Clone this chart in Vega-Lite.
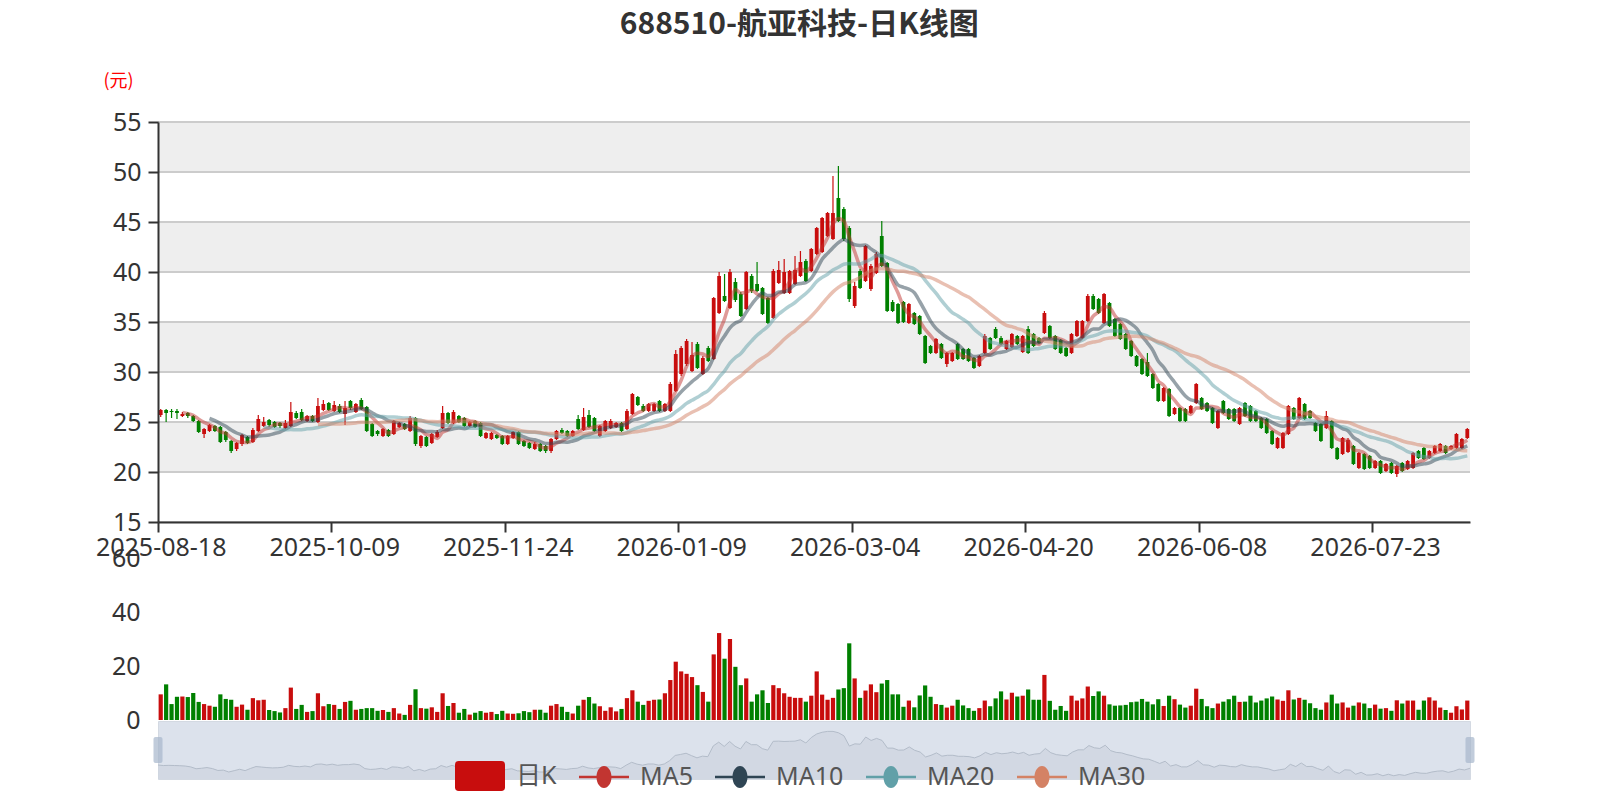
{
  "$schema": "https://vega.github.io/schema/vega-lite/v6.json",
  "padding": {"left": 95, "top": 10, "right": 10, "bottom": 5},
  "background": "#ffffff",
  "title": {"text": "688510-航亚科技-日K线图", "font": "Noto Sans CJK SC", "fontSize": 30, "fontWeight": "bold", "color": "#333333", "anchor": "middle", "offset": 32, "dx": 14},
  "config": {
    "view": {"stroke": null},
    "font": "Noto Sans",
    "axis": {"labelFont": "Noto Sans", "labelFontSize": 25, "labelColor": "#333333", "titleFont": "Noto Sans CJK SC"}
  },
  "datasets": {
    "k": [
      {"d": "2025-08-18", "o": 25.7, "c": 26.2, "h": 26.3, "l": 25.5, "v": 9.5},
      {"d": "2025-08-19", "o": 26.2, "c": 25.9, "h": 26.3, "l": 25.0, "v": 13.2},
      {"d": "2025-08-20", "o": 26.1, "c": 26.0, "h": 26.3, "l": 25.4, "v": 5.9},
      {"d": "2025-08-21", "o": 26.1, "c": 25.9, "h": 26.3, "l": 25.3, "v": 8.6},
      {"d": "2025-08-22", "o": 25.6, "c": 25.8, "h": 26.0, "l": 25.5, "v": 8.7},
      {"d": "2025-08-25", "o": 25.9, "c": 25.6, "h": 26.0, "l": 25.4, "v": 8.5},
      {"d": "2025-08-26", "o": 25.6, "c": 25.1, "h": 25.7, "l": 25.0, "v": 10.0},
      {"d": "2025-08-27", "o": 25.1, "c": 24.0, "h": 25.2, "l": 23.9, "v": 6.7},
      {"d": "2025-08-28", "o": 23.8, "c": 24.3, "h": 24.4, "l": 23.4, "v": 5.9},
      {"d": "2025-08-29", "o": 24.1, "c": 24.7, "h": 24.8, "l": 24.0, "v": 5.3},
      {"d": "2025-09-01", "o": 24.6, "c": 24.1, "h": 24.7, "l": 24.0, "v": 4.9},
      {"d": "2025-09-02", "o": 24.5, "c": 23.0, "h": 24.6, "l": 22.9, "v": 9.5},
      {"d": "2025-09-03", "o": 24.0, "c": 23.2, "h": 24.1, "l": 23.0, "v": 7.8},
      {"d": "2025-09-04", "o": 23.1, "c": 22.1, "h": 23.2, "l": 21.9, "v": 7.5},
      {"d": "2025-09-05", "o": 22.3, "c": 22.9, "h": 23.0, "l": 22.1, "v": 4.9},
      {"d": "2025-09-08", "o": 22.8, "c": 23.7, "h": 23.8, "l": 22.6, "v": 5.7},
      {"d": "2025-09-09", "o": 23.5, "c": 22.9, "h": 23.6, "l": 22.8, "v": 3.8},
      {"d": "2025-09-10", "o": 23.0, "c": 24.2, "h": 24.4, "l": 22.9, "v": 8.1},
      {"d": "2025-09-11", "o": 24.1, "c": 25.3, "h": 25.7, "l": 24.0, "v": 7.3},
      {"d": "2025-09-12", "o": 24.6, "c": 25.0, "h": 25.5, "l": 24.5, "v": 7.5},
      {"d": "2025-09-15", "o": 25.2, "c": 24.7, "h": 25.3, "l": 24.5, "v": 3.7},
      {"d": "2025-09-16", "o": 25.0, "c": 24.5, "h": 25.1, "l": 24.4, "v": 3.3},
      {"d": "2025-09-17", "o": 24.9, "c": 24.6, "h": 25.0, "l": 24.4, "v": 2.8},
      {"d": "2025-09-18", "o": 24.4, "c": 24.9, "h": 25.2, "l": 24.3, "v": 4.4},
      {"d": "2025-09-19", "o": 24.6, "c": 26.0, "h": 27.0, "l": 24.5, "v": 12.0},
      {"d": "2025-09-22", "o": 25.9, "c": 25.4, "h": 26.1, "l": 25.3, "v": 4.1},
      {"d": "2025-09-23", "o": 26.0, "c": 25.2, "h": 26.3, "l": 25.1, "v": 5.6},
      {"d": "2025-09-24", "o": 25.1, "c": 25.6, "h": 25.7, "l": 25.0, "v": 3.0},
      {"d": "2025-09-25", "o": 25.6, "c": 25.1, "h": 25.7, "l": 25.0, "v": 3.3},
      {"d": "2025-09-26", "o": 25.0, "c": 26.6, "h": 27.4, "l": 24.9, "v": 9.9},
      {"d": "2025-09-29", "o": 26.2, "c": 26.8, "h": 27.2, "l": 26.1, "v": 5.1},
      {"d": "2025-09-30", "o": 26.9, "c": 26.2, "h": 27.0, "l": 26.1, "v": 5.9},
      {"d": "2025-10-09", "o": 26.1, "c": 26.7, "h": 27.1, "l": 26.0, "v": 5.6},
      {"d": "2025-10-10", "o": 26.6, "c": 26.0, "h": 26.8, "l": 25.9, "v": 4.1},
      {"d": "2025-10-13", "o": 25.8, "c": 26.4, "h": 27.1, "l": 24.7, "v": 6.7},
      {"d": "2025-10-14", "o": 27.1, "c": 26.4, "h": 27.2, "l": 26.2, "v": 7.1},
      {"d": "2025-10-15", "o": 26.0, "c": 26.8, "h": 26.9, "l": 25.9, "v": 3.8},
      {"d": "2025-10-16", "o": 27.2, "c": 26.3, "h": 27.4, "l": 26.2, "v": 4.1},
      {"d": "2025-10-17", "o": 26.5, "c": 24.1, "h": 26.6, "l": 24.0, "v": 4.4},
      {"d": "2025-10-20", "o": 24.8, "c": 23.6, "h": 24.9, "l": 23.5, "v": 4.4},
      {"d": "2025-10-21", "o": 24.1, "c": 23.8, "h": 24.2, "l": 23.6, "v": 3.4},
      {"d": "2025-10-22", "o": 23.6, "c": 24.3, "h": 24.4, "l": 23.5, "v": 3.7},
      {"d": "2025-10-23", "o": 24.2, "c": 23.6, "h": 24.3, "l": 23.5, "v": 3.0},
      {"d": "2025-10-24", "o": 23.8, "c": 25.1, "h": 25.2, "l": 23.7, "v": 4.4},
      {"d": "2025-10-27", "o": 24.5, "c": 24.9, "h": 25.0, "l": 24.4, "v": 2.4},
      {"d": "2025-10-28", "o": 24.8, "c": 24.3, "h": 24.9, "l": 24.2, "v": 1.9},
      {"d": "2025-10-29", "o": 24.1, "c": 25.4, "h": 25.6, "l": 24.0, "v": 5.6},
      {"d": "2025-10-30", "o": 25.4, "c": 22.8, "h": 25.5, "l": 22.6, "v": 11.4},
      {"d": "2025-10-31", "o": 22.6, "c": 23.6, "h": 23.7, "l": 22.4, "v": 4.4},
      {"d": "2025-11-03", "o": 23.5, "c": 22.6, "h": 23.6, "l": 22.5, "v": 4.2},
      {"d": "2025-11-04", "o": 22.9, "c": 23.8, "h": 23.9, "l": 22.8, "v": 4.7},
      {"d": "2025-11-05", "o": 23.5, "c": 24.0, "h": 24.2, "l": 23.4, "v": 3.0},
      {"d": "2025-11-06", "o": 24.4, "c": 25.9, "h": 26.6, "l": 24.3, "v": 9.9},
      {"d": "2025-11-07", "o": 25.9, "c": 24.9, "h": 26.0, "l": 24.8, "v": 5.2},
      {"d": "2025-11-10", "o": 24.9, "c": 26.0, "h": 26.2, "l": 24.8, "v": 6.3},
      {"d": "2025-11-11", "o": 25.6, "c": 25.0, "h": 25.7, "l": 24.9, "v": 2.7},
      {"d": "2025-11-12", "o": 25.4, "c": 24.6, "h": 25.5, "l": 24.5, "v": 4.1},
      {"d": "2025-11-13", "o": 24.6, "c": 25.0, "h": 25.1, "l": 24.5, "v": 2.0},
      {"d": "2025-11-14", "o": 25.1, "c": 24.5, "h": 25.2, "l": 24.4, "v": 2.7},
      {"d": "2025-11-17", "o": 24.9, "c": 23.6, "h": 25.0, "l": 23.5, "v": 3.3},
      {"d": "2025-11-18", "o": 23.4, "c": 23.9, "h": 24.0, "l": 23.3, "v": 2.7},
      {"d": "2025-11-19", "o": 23.3, "c": 23.9, "h": 24.0, "l": 23.2, "v": 3.0},
      {"d": "2025-11-20", "o": 23.7, "c": 23.4, "h": 23.8, "l": 23.3, "v": 2.2},
      {"d": "2025-11-21", "o": 23.6, "c": 22.8, "h": 23.7, "l": 22.7, "v": 3.4},
      {"d": "2025-11-24", "o": 22.8, "c": 23.6, "h": 23.7, "l": 22.7, "v": 2.4},
      {"d": "2025-11-25", "o": 23.4, "c": 24.0, "h": 24.1, "l": 23.3, "v": 2.3},
      {"d": "2025-11-26", "o": 24.0, "c": 22.8, "h": 24.1, "l": 22.7, "v": 2.5},
      {"d": "2025-11-27", "o": 23.1, "c": 22.6, "h": 23.2, "l": 22.5, "v": 3.3},
      {"d": "2025-11-28", "o": 22.9, "c": 22.4, "h": 23.0, "l": 22.3, "v": 2.9},
      {"d": "2025-12-01", "o": 22.3, "c": 22.8, "h": 23.0, "l": 22.2, "v": 3.8},
      {"d": "2025-12-02", "o": 22.8, "c": 22.1, "h": 22.9, "l": 22.0, "v": 3.8},
      {"d": "2025-12-03", "o": 22.6, "c": 22.1, "h": 22.7, "l": 21.9, "v": 2.7},
      {"d": "2025-12-04", "o": 22.1, "c": 23.3, "h": 23.4, "l": 21.9, "v": 5.3},
      {"d": "2025-12-05", "o": 23.3, "c": 24.1, "h": 24.2, "l": 23.2, "v": 5.9},
      {"d": "2025-12-08", "o": 24.2, "c": 23.9, "h": 24.4, "l": 23.8, "v": 4.9},
      {"d": "2025-12-09", "o": 24.1, "c": 23.6, "h": 24.2, "l": 23.5, "v": 3.0},
      {"d": "2025-12-10", "o": 23.6, "c": 24.1, "h": 24.2, "l": 23.5, "v": 2.4},
      {"d": "2025-12-11", "o": 25.3, "c": 24.3, "h": 25.7, "l": 24.2, "v": 5.3},
      {"d": "2025-12-12", "o": 24.2, "c": 25.5, "h": 26.4, "l": 24.1, "v": 7.5},
      {"d": "2025-12-15", "o": 25.7, "c": 24.5, "h": 26.2, "l": 24.4, "v": 8.5},
      {"d": "2025-12-16", "o": 25.4, "c": 24.1, "h": 25.5, "l": 24.0, "v": 6.1},
      {"d": "2025-12-17", "o": 23.6, "c": 24.6, "h": 24.7, "l": 23.5, "v": 5.1},
      {"d": "2025-12-18", "o": 24.1, "c": 25.1, "h": 25.2, "l": 24.0, "v": 3.4},
      {"d": "2025-12-19", "o": 24.4, "c": 25.1, "h": 25.3, "l": 24.3, "v": 4.7},
      {"d": "2025-12-22", "o": 24.5, "c": 24.9, "h": 25.0, "l": 24.4, "v": 3.2},
      {"d": "2025-12-23", "o": 24.9, "c": 24.1, "h": 25.0, "l": 24.0, "v": 4.1},
      {"d": "2025-12-24", "o": 24.3, "c": 26.1, "h": 26.3, "l": 24.2, "v": 8.1},
      {"d": "2025-12-25", "o": 25.8, "c": 27.8, "h": 27.9, "l": 25.7, "v": 11.0},
      {"d": "2025-12-26", "o": 27.5, "c": 26.7, "h": 27.6, "l": 26.6, "v": 6.8},
      {"d": "2025-12-29", "o": 26.6, "c": 26.1, "h": 26.8, "l": 26.0, "v": 5.6},
      {"d": "2025-12-30", "o": 26.1, "c": 26.8, "h": 26.9, "l": 26.0, "v": 7.1},
      {"d": "2025-12-31", "o": 26.1, "c": 26.8, "h": 26.9, "l": 26.0, "v": 7.5},
      {"d": "2026-01-05", "o": 27.1, "c": 26.1, "h": 27.2, "l": 26.0, "v": 7.6},
      {"d": "2026-01-06", "o": 26.1, "c": 26.8, "h": 26.9, "l": 26.0, "v": 9.9},
      {"d": "2026-01-07", "o": 26.1, "c": 28.8, "h": 29.0, "l": 26.0, "v": 14.8},
      {"d": "2026-01-08", "o": 28.1, "c": 31.8, "h": 32.2, "l": 28.0, "v": 21.6},
      {"d": "2026-01-09", "o": 29.8, "c": 32.4, "h": 32.6, "l": 29.6, "v": 18.0},
      {"d": "2026-01-12", "o": 30.8, "c": 33.1, "h": 33.3, "l": 30.6, "v": 17.1},
      {"d": "2026-01-13", "o": 30.1, "c": 31.7, "h": 33.0, "l": 30.0, "v": 15.9},
      {"d": "2026-01-14", "o": 32.8, "c": 30.4, "h": 33.0, "l": 30.3, "v": 12.9},
      {"d": "2026-01-15", "o": 29.8, "c": 31.4, "h": 31.6, "l": 29.7, "v": 10.4},
      {"d": "2026-01-16", "o": 32.4, "c": 31.1, "h": 32.6, "l": 31.0, "v": 6.8},
      {"d": "2026-01-19", "o": 31.3, "c": 37.4, "h": 37.5, "l": 31.2, "v": 24.3},
      {"d": "2026-01-20", "o": 35.9, "c": 39.6, "h": 40.0, "l": 35.8, "v": 32.2},
      {"d": "2026-01-21", "o": 37.6, "c": 37.1, "h": 39.8, "l": 37.0, "v": 22.7},
      {"d": "2026-01-22", "o": 36.4, "c": 40.0, "h": 40.3, "l": 36.3, "v": 30.0},
      {"d": "2026-01-23", "o": 39.0, "c": 37.2, "h": 39.4, "l": 37.0, "v": 19.7},
      {"d": "2026-01-26", "o": 37.8, "c": 35.6, "h": 38.0, "l": 35.5, "v": 12.9},
      {"d": "2026-01-27", "o": 36.3, "c": 40.0, "h": 40.1, "l": 36.2, "v": 15.4},
      {"d": "2026-01-28", "o": 39.6, "c": 38.1, "h": 39.8, "l": 37.9, "v": 6.8},
      {"d": "2026-01-29", "o": 38.8, "c": 38.1, "h": 41.0, "l": 38.0, "v": 9.5},
      {"d": "2026-01-30", "o": 38.4, "c": 35.8, "h": 38.5, "l": 35.7, "v": 11.0},
      {"d": "2026-02-02", "o": 37.4, "c": 34.9, "h": 37.5, "l": 34.8, "v": 6.3},
      {"d": "2026-02-03", "o": 35.4, "c": 40.1, "h": 40.3, "l": 35.3, "v": 12.9},
      {"d": "2026-02-04", "o": 38.9, "c": 40.2, "h": 41.1, "l": 38.8, "v": 11.8},
      {"d": "2026-02-05", "o": 37.9, "c": 40.0, "h": 41.3, "l": 37.8, "v": 9.9},
      {"d": "2026-02-06", "o": 37.9, "c": 40.1, "h": 40.2, "l": 37.8, "v": 8.6},
      {"d": "2026-02-09", "o": 38.8, "c": 40.2, "h": 41.6, "l": 38.7, "v": 8.2},
      {"d": "2026-02-10", "o": 39.6, "c": 41.0, "h": 42.1, "l": 39.5, "v": 8.2},
      {"d": "2026-02-11", "o": 41.1, "c": 39.1, "h": 41.3, "l": 39.0, "v": 6.8},
      {"d": "2026-02-12", "o": 40.1, "c": 42.3, "h": 42.4, "l": 40.0, "v": 9.0},
      {"d": "2026-02-13", "o": 41.8, "c": 44.4, "h": 44.5, "l": 41.7, "v": 18.0},
      {"d": "2026-02-24", "o": 42.0, "c": 45.4, "h": 45.5, "l": 41.9, "v": 9.4},
      {"d": "2026-02-25", "o": 43.6, "c": 45.9, "h": 46.0, "l": 43.5, "v": 7.5},
      {"d": "2026-02-26", "o": 43.3, "c": 45.9, "h": 49.6, "l": 43.2, "v": 8.2},
      {"d": "2026-02-27", "o": 47.4, "c": 45.1, "h": 50.6, "l": 45.0, "v": 11.3},
      {"d": "2026-03-02", "o": 46.3, "c": 43.3, "h": 46.5, "l": 43.1, "v": 11.8},
      {"d": "2026-03-03", "o": 44.4, "c": 37.3, "h": 44.6, "l": 37.0, "v": 28.4},
      {"d": "2026-03-04", "o": 36.6, "c": 38.6, "h": 39.0, "l": 36.4, "v": 15.4},
      {"d": "2026-03-05", "o": 40.1, "c": 38.4, "h": 40.3, "l": 38.3, "v": 8.2},
      {"d": "2026-03-06", "o": 39.1, "c": 42.6, "h": 42.7, "l": 39.0, "v": 10.9},
      {"d": "2026-03-09", "o": 38.3, "c": 40.6, "h": 40.8, "l": 38.1, "v": 13.2},
      {"d": "2026-03-10", "o": 39.9, "c": 41.8, "h": 42.0, "l": 39.8, "v": 10.3},
      {"d": "2026-03-11", "o": 43.6, "c": 40.6, "h": 45.1, "l": 40.5, "v": 13.5},
      {"d": "2026-03-12", "o": 40.9, "c": 36.1, "h": 41.0, "l": 36.0, "v": 14.8},
      {"d": "2026-03-13", "o": 37.0, "c": 36.1, "h": 37.2, "l": 36.0, "v": 9.5},
      {"d": "2026-03-16", "o": 36.8, "c": 34.9, "h": 36.9, "l": 34.8, "v": 9.5},
      {"d": "2026-03-17", "o": 37.0, "c": 35.0, "h": 37.1, "l": 34.9, "v": 4.9},
      {"d": "2026-03-18", "o": 34.9, "c": 36.8, "h": 36.9, "l": 34.8, "v": 7.2},
      {"d": "2026-03-19", "o": 35.9, "c": 34.8, "h": 36.0, "l": 34.7, "v": 4.7},
      {"d": "2026-03-20", "o": 35.6, "c": 33.8, "h": 35.7, "l": 33.7, "v": 9.1},
      {"d": "2026-03-23", "o": 33.6, "c": 30.9, "h": 33.7, "l": 30.8, "v": 12.8},
      {"d": "2026-03-24", "o": 32.6, "c": 31.9, "h": 32.7, "l": 31.8, "v": 8.6},
      {"d": "2026-03-25", "o": 31.9, "c": 33.3, "h": 33.4, "l": 31.8, "v": 5.9},
      {"d": "2026-03-26", "o": 32.8, "c": 31.4, "h": 32.9, "l": 31.3, "v": 5.6},
      {"d": "2026-03-27", "o": 30.8, "c": 31.9, "h": 32.0, "l": 30.5, "v": 4.6},
      {"d": "2026-03-30", "o": 31.1, "c": 31.9, "h": 32.0, "l": 31.0, "v": 5.3},
      {"d": "2026-03-31", "o": 32.8, "c": 31.3, "h": 32.9, "l": 31.2, "v": 7.5},
      {"d": "2026-04-01", "o": 32.3, "c": 31.3, "h": 32.4, "l": 31.2, "v": 5.4},
      {"d": "2026-04-02", "o": 32.3, "c": 31.1, "h": 32.4, "l": 31.0, "v": 4.4},
      {"d": "2026-04-03", "o": 31.4, "c": 30.4, "h": 31.5, "l": 30.3, "v": 3.4},
      {"d": "2026-04-07", "o": 30.6, "c": 31.6, "h": 31.7, "l": 30.5, "v": 4.4},
      {"d": "2026-04-08", "o": 31.9, "c": 33.6, "h": 33.8, "l": 31.8, "v": 7.2},
      {"d": "2026-04-09", "o": 33.4, "c": 32.3, "h": 33.5, "l": 32.2, "v": 5.1},
      {"d": "2026-04-10", "o": 34.3, "c": 33.4, "h": 34.5, "l": 33.3, "v": 8.0},
      {"d": "2026-04-13", "o": 33.4, "c": 32.8, "h": 33.6, "l": 32.7, "v": 10.6},
      {"d": "2026-04-14", "o": 32.3, "c": 33.1, "h": 33.2, "l": 32.2, "v": 7.6},
      {"d": "2026-04-15", "o": 32.5, "c": 33.8, "h": 33.9, "l": 32.4, "v": 10.1},
      {"d": "2026-04-16", "o": 33.6, "c": 32.8, "h": 33.7, "l": 32.7, "v": 8.7},
      {"d": "2026-04-17", "o": 32.0, "c": 33.6, "h": 33.7, "l": 31.9, "v": 9.0},
      {"d": "2026-04-20", "o": 34.3, "c": 31.9, "h": 34.6, "l": 31.8, "v": 11.3},
      {"d": "2026-04-21", "o": 33.8, "c": 32.6, "h": 33.9, "l": 32.5, "v": 7.5},
      {"d": "2026-04-22", "o": 33.4, "c": 32.9, "h": 33.5, "l": 32.8, "v": 7.5},
      {"d": "2026-04-23", "o": 33.9, "c": 35.9, "h": 36.1, "l": 33.8, "v": 16.7},
      {"d": "2026-04-24", "o": 34.6, "c": 33.4, "h": 34.7, "l": 33.3, "v": 7.1},
      {"d": "2026-04-27", "o": 33.6, "c": 32.3, "h": 33.7, "l": 32.2, "v": 3.8},
      {"d": "2026-04-28", "o": 33.2, "c": 31.9, "h": 33.3, "l": 31.8, "v": 5.2},
      {"d": "2026-04-29", "o": 32.4, "c": 31.6, "h": 32.5, "l": 31.5, "v": 3.4},
      {"d": "2026-04-30", "o": 31.9, "c": 33.8, "h": 33.9, "l": 31.8, "v": 9.0},
      {"d": "2026-05-06", "o": 33.6, "c": 35.1, "h": 35.2, "l": 33.5, "v": 7.2},
      {"d": "2026-05-07", "o": 33.4, "c": 35.1, "h": 35.2, "l": 33.3, "v": 8.0},
      {"d": "2026-05-08", "o": 35.1, "c": 37.6, "h": 37.8, "l": 35.0, "v": 12.4},
      {"d": "2026-05-11", "o": 37.6, "c": 36.3, "h": 37.8, "l": 36.2, "v": 8.9},
      {"d": "2026-05-12", "o": 37.3, "c": 35.9, "h": 37.4, "l": 35.8, "v": 10.6},
      {"d": "2026-05-13", "o": 34.9, "c": 37.8, "h": 37.9, "l": 34.8, "v": 9.0},
      {"d": "2026-05-14", "o": 36.9, "c": 34.6, "h": 37.0, "l": 34.5, "v": 5.8},
      {"d": "2026-05-15", "o": 35.3, "c": 33.6, "h": 35.4, "l": 33.5, "v": 5.3},
      {"d": "2026-05-18", "o": 34.8, "c": 33.3, "h": 34.9, "l": 33.2, "v": 5.4},
      {"d": "2026-05-19", "o": 33.8, "c": 32.3, "h": 33.9, "l": 32.2, "v": 5.6},
      {"d": "2026-05-20", "o": 33.1, "c": 31.6, "h": 33.2, "l": 31.5, "v": 6.6},
      {"d": "2026-05-21", "o": 31.6, "c": 30.6, "h": 31.7, "l": 30.5, "v": 6.8},
      {"d": "2026-05-22", "o": 31.3, "c": 29.8, "h": 31.4, "l": 29.7, "v": 7.8},
      {"d": "2026-05-25", "o": 31.0, "c": 29.6, "h": 31.9, "l": 29.5, "v": 6.8},
      {"d": "2026-05-26", "o": 29.8, "c": 28.4, "h": 29.9, "l": 28.3, "v": 5.8},
      {"d": "2026-05-27", "o": 28.8, "c": 27.1, "h": 28.9, "l": 27.0, "v": 7.7},
      {"d": "2026-05-28", "o": 27.1, "c": 28.4, "h": 28.5, "l": 27.0, "v": 5.2},
      {"d": "2026-05-29", "o": 28.3, "c": 25.6, "h": 28.4, "l": 25.5, "v": 9.0},
      {"d": "2026-06-01", "o": 25.8, "c": 26.4, "h": 26.5, "l": 25.7, "v": 7.7},
      {"d": "2026-06-02", "o": 26.4, "c": 25.1, "h": 26.5, "l": 25.0, "v": 5.7},
      {"d": "2026-06-03", "o": 26.3, "c": 25.1, "h": 26.4, "l": 25.0, "v": 4.6},
      {"d": "2026-06-04", "o": 25.9, "c": 26.6, "h": 26.7, "l": 25.8, "v": 5.3},
      {"d": "2026-06-05", "o": 26.9, "c": 28.8, "h": 28.9, "l": 26.8, "v": 11.6},
      {"d": "2026-06-08", "o": 27.4, "c": 26.3, "h": 27.5, "l": 26.2, "v": 7.8},
      {"d": "2026-06-09", "o": 26.9, "c": 26.1, "h": 27.0, "l": 26.0, "v": 5.1},
      {"d": "2026-06-10", "o": 26.4, "c": 24.9, "h": 26.5, "l": 24.8, "v": 4.4},
      {"d": "2026-06-11", "o": 24.4, "c": 26.1, "h": 26.2, "l": 24.3, "v": 6.1},
      {"d": "2026-06-12", "o": 27.1, "c": 25.9, "h": 27.2, "l": 25.8, "v": 6.8},
      {"d": "2026-06-15", "o": 26.3, "c": 25.3, "h": 26.4, "l": 25.2, "v": 7.7},
      {"d": "2026-06-16", "o": 26.3, "c": 25.1, "h": 26.4, "l": 25.0, "v": 9.0},
      {"d": "2026-06-17", "o": 24.8, "c": 26.4, "h": 26.5, "l": 24.7, "v": 6.7},
      {"d": "2026-06-18", "o": 26.9, "c": 25.6, "h": 27.0, "l": 25.5, "v": 6.8},
      {"d": "2026-06-22", "o": 26.6, "c": 25.1, "h": 26.7, "l": 25.0, "v": 9.0},
      {"d": "2026-06-23", "o": 26.1, "c": 25.1, "h": 26.2, "l": 25.0, "v": 6.5},
      {"d": "2026-06-24", "o": 25.4, "c": 24.4, "h": 25.5, "l": 24.3, "v": 7.2},
      {"d": "2026-06-25", "o": 25.3, "c": 23.9, "h": 25.4, "l": 23.8, "v": 8.0},
      {"d": "2026-06-26", "o": 24.1, "c": 22.8, "h": 24.2, "l": 22.7, "v": 8.7},
      {"d": "2026-06-29", "o": 22.4, "c": 23.4, "h": 23.5, "l": 22.3, "v": 7.6},
      {"d": "2026-06-30", "o": 22.4, "c": 23.9, "h": 24.0, "l": 22.3, "v": 7.1},
      {"d": "2026-07-01", "o": 23.8, "c": 26.6, "h": 26.7, "l": 23.7, "v": 11.0},
      {"d": "2026-07-02", "o": 26.4, "c": 25.3, "h": 26.5, "l": 25.2, "v": 7.6},
      {"d": "2026-07-03", "o": 25.4, "c": 27.4, "h": 27.5, "l": 25.3, "v": 8.2},
      {"d": "2026-07-06", "o": 26.8, "c": 25.3, "h": 26.9, "l": 25.2, "v": 7.5},
      {"d": "2026-07-07", "o": 26.1, "c": 25.4, "h": 26.2, "l": 25.3, "v": 6.2},
      {"d": "2026-07-08", "o": 24.9, "c": 24.1, "h": 25.0, "l": 24.0, "v": 4.4},
      {"d": "2026-07-09", "o": 24.8, "c": 23.1, "h": 24.9, "l": 23.0, "v": 3.8},
      {"d": "2026-07-10", "o": 24.4, "c": 25.6, "h": 26.1, "l": 24.3, "v": 6.5},
      {"d": "2026-07-13", "o": 25.1, "c": 22.4, "h": 25.2, "l": 22.3, "v": 9.4},
      {"d": "2026-07-14", "o": 22.4, "c": 21.3, "h": 22.5, "l": 21.2, "v": 6.1},
      {"d": "2026-07-15", "o": 21.8, "c": 23.4, "h": 23.5, "l": 21.7, "v": 6.5},
      {"d": "2026-07-16", "o": 22.0, "c": 23.2, "h": 23.4, "l": 21.9, "v": 4.6},
      {"d": "2026-07-17", "o": 22.6, "c": 20.8, "h": 22.7, "l": 20.7, "v": 5.3},
      {"d": "2026-07-20", "o": 20.4, "c": 21.9, "h": 22.0, "l": 20.3, "v": 6.5},
      {"d": "2026-07-21", "o": 21.8, "c": 20.3, "h": 21.9, "l": 20.2, "v": 6.1},
      {"d": "2026-07-22", "o": 21.6, "c": 20.4, "h": 21.7, "l": 20.3, "v": 4.4},
      {"d": "2026-07-23", "o": 20.4, "c": 21.1, "h": 21.2, "l": 20.3, "v": 5.7},
      {"d": "2026-07-24", "o": 21.1, "c": 19.9, "h": 21.2, "l": 19.8, "v": 4.2},
      {"d": "2026-07-27", "o": 20.1, "c": 20.8, "h": 20.9, "l": 20.0, "v": 4.4},
      {"d": "2026-07-28", "o": 20.9, "c": 19.9, "h": 21.0, "l": 19.8, "v": 3.4},
      {"d": "2026-07-29", "o": 19.8, "c": 20.6, "h": 20.7, "l": 19.5, "v": 7.3},
      {"d": "2026-07-30", "o": 20.9, "c": 20.1, "h": 21.0, "l": 20.0, "v": 6.1},
      {"d": "2026-07-31", "o": 20.3, "c": 21.1, "h": 21.2, "l": 20.2, "v": 7.2},
      {"d": "2026-08-03", "o": 20.4, "c": 21.9, "h": 22.0, "l": 20.3, "v": 7.2},
      {"d": "2026-08-04", "o": 22.1, "c": 21.4, "h": 22.2, "l": 21.3, "v": 3.8},
      {"d": "2026-08-05", "o": 22.4, "c": 21.3, "h": 22.5, "l": 21.2, "v": 7.2},
      {"d": "2026-08-06", "o": 21.4, "c": 22.1, "h": 22.2, "l": 21.3, "v": 8.4},
      {"d": "2026-08-07", "o": 21.9, "c": 22.6, "h": 22.7, "l": 21.8, "v": 7.2},
      {"d": "2026-08-10", "o": 22.1, "c": 22.8, "h": 22.9, "l": 22.0, "v": 4.6},
      {"d": "2026-08-11", "o": 22.6, "c": 21.9, "h": 22.7, "l": 21.8, "v": 3.7},
      {"d": "2026-08-12", "o": 22.3, "c": 22.6, "h": 22.7, "l": 22.2, "v": 2.7},
      {"d": "2026-08-13", "o": 22.4, "c": 23.8, "h": 23.9, "l": 22.3, "v": 5.1},
      {"d": "2026-08-14", "o": 22.4, "c": 23.3, "h": 23.4, "l": 22.3, "v": 3.9},
      {"d": "2026-08-17", "o": 23.4, "c": 24.3, "h": 24.4, "l": 23.3, "v": 7.2}
    ]
  },
  "bounds": "flush",
  "spacing": 36,
  "vconcat": [
    {
      "width": 1312,
      "height": 400,
      "layer": [
        {
          "data": {"values": [{"a": 20, "b": 25}, {"a": 30, "b": 35}, {"a": 40, "b": 45}, {"a": 50, "b": 55}]},
          "mark": {"type": "rect", "color": "#eeeeee"},
          "encoding": {
            "y": {
              "field": "a", "type": "quantitative", "title": "(元)",
              "scale": {"domain": [15, 55], "nice": false, "zero": false},
              "axis": {
                "values": [15, 20, 25, 30, 35, 40, 45, 50, 55], "zindex": 1,
                "grid": false, "domainColor": "#333333", "domainWidth": 2,
                "tickColor": "#333333", "tickWidth": 2, "tickSize": 10, "labelPadding": 7,
                "titleAngle": 0, "titleColor": "#ff0000", "titleFontSize": 18, "titleFontWeight": "normal",
                "titleX": -40, "titleY": -41, "titleAlign": "center", "titleBaseline": "middle"
              }
            },
            "y2": {"field": "b"}
          }
        },
        {
          "data": {"values": [{"g": 15}, {"g": 20}, {"g": 25}, {"g": 30}, {"g": 35}, {"g": 40}, {"g": 45}, {"g": 50}, {"g": 55}]},
          "mark": {"type": "rule", "color": "#cccccc", "strokeWidth": 2},
          "encoding": {"y": {"field": "g", "type": "quantitative", "title": "(元)"}}
        },
        {
          "data": {"name": "k"},
          "encoding": {
            "x": {
              "field": "d", "type": "ordinal",
              "scale": {"type": "band", "paddingInner": 0, "paddingOuter": 0},
              "axis": {
                "values": ["2025-08-18", "2025-10-09", "2025-11-24", "2026-01-09", "2026-03-04", "2026-04-20", "2026-06-08", "2026-07-23"],
                "zindex": 1, "labelAngle": 0, "labelPadding": 3, "tickSize": 10, "tickWidth": 2, "tickColor": "#333333",
                "domainColor": "#333333", "domainWidth": 2, "title": null, "grid": false,
                "labelOverlap": false, "labelFlush": false, "tickOffset": -2.71, "labelOffset": 2.71
              }
            }
          },
          "layer": [
            {
              "mark": {"type": "rule", "strokeWidth": 1.2, "clip": true},
              "encoding": {
                "y": {"field": "l", "type": "quantitative", "title": "(元)"},
                "y2": {"field": "h"},
                "color": {"condition": {"test": "datum.c >= datum.o", "value": "#c80d0d"}, "value": "#008000"}
              }
            },
            {
              "mark": {"type": "bar", "width": 3.8, "clip": true},
              "encoding": {
                "y": {"field": "o", "type": "quantitative", "title": "(元)"},
                "y2": {"field": "c"},
                "color": {"condition": {"test": "datum.c >= datum.o", "value": "#c80d0d"}, "value": "#008000"}
              }
            },
            {
              "transform": [
                {"window": [{"op": "mean", "field": "c", "as": "MA5"}], "frame": [-4, 0], "sort": [{"field": "d"}]},
                {"window": [{"op": "mean", "field": "c", "as": "MA10"}], "frame": [-9, 0], "sort": [{"field": "d"}]},
                {"window": [{"op": "mean", "field": "c", "as": "MA20"}], "frame": [-19, 0], "sort": [{"field": "d"}]},
                {"window": [{"op": "mean", "field": "c", "as": "MA30"}], "frame": [-29, 0], "sort": [{"field": "d"}]},
                {"window": [{"op": "row_number", "as": "n"}], "sort": [{"field": "d"}]},
                {"fold": ["MA5", "MA10", "MA20", "MA30"], "as": ["ma", "val"]},
                {"filter": "(datum.ma == 'MA5' && datum.n >= 5) || (datum.ma == 'MA10' && datum.n >= 10) || (datum.ma == 'MA20' && datum.n >= 20) || (datum.ma == 'MA30' && datum.n >= 30)"}
              ],
              "mark": {"type": "line", "strokeWidth": 3.5, "opacity": 0.5, "interpolate": "monotone", "clip": true},
              "encoding": {
                "y": {"field": "val", "type": "quantitative", "title": "(元)"},
                "color": {
                  "field": "ma", "type": "nominal", "legend": null,
                  "scale": {"domain": ["MA5", "MA10", "MA20", "MA30"], "range": ["#c23531", "#2f4554", "#61a0a8", "#d48265"]}
                }
              }
            }
          ]
        }
      ]
    },
    {
      "bounds": "flush",
      "spacing": 1,
      "resolve": {"legend": {"fill": "independent", "shape": "independent"}},
      "vconcat": [
        {
          "width": 1312,
          "height": 162,
          "data": {"name": "k"},
          "mark": {"type": "bar", "width": 4.2},
          "encoding": {
            "x": {"field": "d", "type": "ordinal", "scale": {"type": "band", "paddingInner": 0, "paddingOuter": 0}, "axis": null},
            "y": {
              "field": "v", "type": "quantitative", "title": null,
              "scale": {"domain": [0, 60], "nice": false},
              "axis": {"values": [0, 20, 40, 60], "domain": false, "ticks": false, "grid": false, "labelPadding": 18}
            },
            "color": {"condition": {"test": "datum.c >= datum.o", "value": "#c80d0d"}, "value": "#008000"}
          }
        },
        {
          "width": 1312,
          "height": 58,
          "view": {"fill": "#dce2ec", "stroke": "#d3d9e2", "strokeWidth": 1},
          "layer": [
            {
              "data": {"name": "k"},
              "mark": {"type": "area", "color": "#cdd4df", "line": {"color": "#b3bcc9", "strokeWidth": 1}},
              "encoding": {
                "x": {"field": "d", "type": "ordinal", "scale": {"type": "point", "padding": 0}, "axis": null},
                "y": {"field": "c", "type": "quantitative", "scale": {"domain": [18, 52], "nice": false, "zero": false}, "axis": null},
                "y2": {"datum": 18}
              }
            },
            {
              "data": {"values": [{"d": "2025-08-18"}, {"d": "2026-08-17"}]},
              "mark": {"type": "tick", "orient": "vertical", "thickness": 9, "size": 26, "color": "#a7b7cc", "cornerRadius": 2},
              "encoding": {
                "x": {"field": "d", "type": "ordinal"},
                "y": {"datum": 35, "type": "quantitative"}
              }
            },
            {
              "data": {"values": [{"ma": "日K"}, {"ma": "MA5"}, {"ma": "MA10"}, {"ma": "MA20"}, {"ma": "MA30"}]},
              "mark": {"type": "point", "filled": true, "size": 0, "opacity": 1},
              "encoding": {
                "fill": {
                  "field": "ma", "type": "nominal",
                  "scale": {"domain": ["日K", "MA5", "MA10", "MA20", "MA30"], "range": ["#c80d0d", "#c23531", "#2f4554", "#61a0a8", "#d48265"]},
                  "legend": {"orient": "none", "direction": "horizontal", "legendX": 297, "legendY": 30, "title": null, "padding": 0,
                    "labelFont": "Noto Sans, Noto Sans CJK SC", "labelFontSize": 25, "labelColor": "#555555",
                    "symbolSize": 2500, "labelOffset": 11, "columnPadding": 22, "symbolStrokeWidth": 0, "symbolOpacity": 1}
                },
                "shape": {
                  "field": "ma", "type": "nominal",
                  "scale": {"domain": ["日K", "MA5", "MA10", "MA20", "MA30"], "range": [
                    "M-0.85,-0.6L0.85,-0.6Q1,-0.6 1,-0.45L1,0.45Q1,0.6 0.85,0.6L-0.85,0.6Q-1,0.6 -1,0.45L-1,-0.45Q-1,-0.6 -0.85,-0.6Z",
                    "M-1,-0.05L1,-0.05L1,0.05L-1,0.05Z M-0.3,0A0.3,0.44 0 1,1 0.3,0A0.3,0.44 0 1,1 -0.3,0Z",
                    "M-1,-0.05L1,-0.05L1,0.05L-1,0.05Z M-0.3,0A0.3,0.44 0 1,1 0.3,0A0.3,0.44 0 1,1 -0.3,0Z",
                    "M-1,-0.05L1,-0.05L1,0.05L-1,0.05Z M-0.3,0A0.3,0.44 0 1,1 0.3,0A0.3,0.44 0 1,1 -0.3,0Z",
                    "M-1,-0.05L1,-0.05L1,0.05L-1,0.05Z M-0.3,0A0.3,0.44 0 1,1 0.3,0A0.3,0.44 0 1,1 -0.3,0Z"
                  ]},
                  "legend": {"orient": "none", "direction": "horizontal", "legendX": 297, "legendY": 30, "title": null, "padding": 0,
                    "labelFont": "Noto Sans, Noto Sans CJK SC", "labelFontSize": 25, "labelColor": "#555555",
                    "symbolSize": 2500, "labelOffset": 11, "columnPadding": 22, "symbolStrokeWidth": 0, "symbolOpacity": 1}
                }
              }
            }
          ]
        }
      ]
    }
  ]
}
